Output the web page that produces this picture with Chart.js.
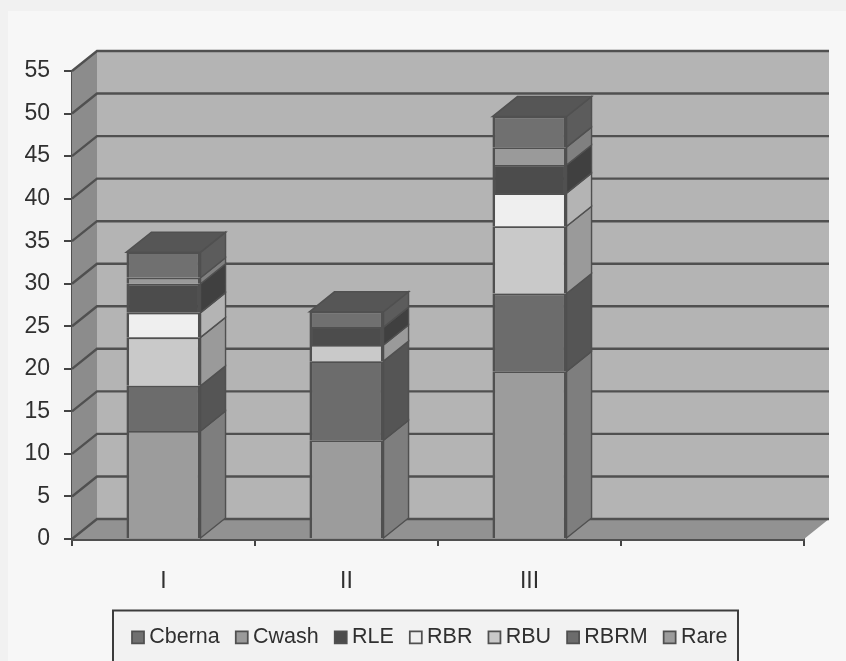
<!DOCTYPE html>
<html><head><meta charset="utf-8">
<style>html,body{margin:0;padding:0;background:#f1f1f1;overflow:hidden}canvas{display:block;filter:blur(0.7px)}</style>
<script src="https://cdn.jsdelivr.net/npm/chart.js@4"></script>
</head><body><canvas id="c" width="846" height="661"></canvas>
<script>
const categories = ['I','II','III',''];
const rare  = [12.7, 11.6, 19.7, null];
const rbrm  = [5.3, 9.3, 9.15, null];
const rbu   = [5.7, 1.9, 7.9, null];
const rbr   = [2.9, null, 3.9, null];
const rle   = [3.4, 2.1, 3.3, null];
const cwash = [0.7, null, 2.1, null];
const cberna= [3.0, 1.8, 3.6, null];
const names = ['Rare','RBRM','RBU','RBR','RLE','Cwash','Cberna'];
const values = [rare,rbrm,rbu,rbr,rle,cwash,cberna];
const fronts = ['#9c9c9c','#6c6c6c','#c9c9c9','#efefef','#4c4c4c','#9a9a9a','#707070'];
const sides  = ['#7e7e7e','#555555','#9a9a9a','#b4b4b4','#404040','#808080','#5c5c5c'];
const topFace = '#565656';
const line = '#505050';
const DX = 25, DY = -20;

const box3d = {
  id:'box3d',
  afterLayout(ch){ ch.scales.y.left = 0; },
  beforeDraw(ch){
    const {ctx,legend:l,width,height}=ch;
    ctx.save();
    ctx.fillStyle='#f1f1f1';ctx.fillRect(0,0,width,height);
    ctx.fillStyle='#f7f7f7';ctx.fillRect(8,11,width-8,height-11);
    const hits=l.legendHitBoxes;
    const x0=hits[0].left-24.5, x1=hits[hits.length-1].left+hits[hits.length-1].width+10.5, y0=l.top+5.5;
    ctx.fillStyle='#f2f2f2';ctx.fillRect(x0,y0,x1-x0,height-y0+4);
    ctx.strokeStyle='#3c3c3c';ctx.lineWidth=2;ctx.strokeRect(x0,y0,x1-x0,height-y0+4);
    ctx.restore();
  },
  beforeDatasetsDraw(ch){
    const {ctx, chartArea:a, scales:{y}} = ch;
    const poly=(pts,fill)=>{ctx.beginPath();pts.forEach((p,i)=>i?ctx.lineTo(p[0],p[1]):ctx.moveTo(p[0],p[1]));ctx.closePath();ctx.fillStyle=fill;ctx.fill();};
    ctx.save();
    poly([[a.left+DX,a.top+DY],[a.right+DX,a.top+DY],[a.right+DX,a.bottom+DY],[a.left+DX,a.bottom+DY]],'#b4b4b4');
    poly([[a.left,a.top],[a.left+DX,a.top+DY],[a.left+DX,a.bottom+DY],[a.left,a.bottom]],'#8c8c8c');
    poly([[a.left,a.bottom],[a.left+DX,a.bottom+DY],[a.right+DX,a.bottom+DY],[a.right,a.bottom]],'#929292');
    ctx.strokeStyle=line;ctx.lineWidth=2.4;
    y.ticks.forEach(t=>{
      const py=y.getPixelForValue(t.value);
      ctx.beginPath();ctx.moveTo(a.left,py);ctx.lineTo(a.left+DX,py+DY);ctx.lineTo(a.right+DX,py+DY);ctx.stroke();
    });
    const n=categories.length;
    for(let c=0;c<n;c++){
      let last=null;
      ch.data.datasets.forEach((ds,i)=>{
        const el=ch.getDatasetMeta(i).data[c];
        if(ds.data[c]==null||!el)return;
        const r=el.x+el.width/2;
        ctx.beginPath();ctx.moveTo(r,el.base);ctx.lineTo(r+DX,el.base+DY);ctx.lineTo(r+DX,el.y+DY);ctx.lineTo(r,el.y);ctx.closePath();
        ctx.fillStyle=sides[i];ctx.fill();ctx.strokeStyle=line;ctx.lineWidth=1.4;ctx.stroke();
        last=el;
      });
      if(last){
        const l=last.x-last.width/2,r=last.x+last.width/2;
        ctx.beginPath();ctx.moveTo(l,last.y);ctx.lineTo(l+DX,last.y+DY);ctx.lineTo(r+DX,last.y+DY);ctx.lineTo(r,last.y);ctx.closePath();
        ctx.fillStyle=topFace;ctx.fill();ctx.strokeStyle=line;ctx.lineWidth=1.6;ctx.stroke();
      }
    }
    ctx.restore();
  }
};

new Chart(document.getElementById('c'),{
  type:'bar',
  data:{labels:categories,datasets:names.map((nm,i)=>({label:nm,data:values[i],backgroundColor:fronts[i],borderColor:line,borderWidth:{left:2.6,right:2.6,top:1.8,bottom:0},borderSkipped:false,categoryPercentage:1,barPercentage:0.405}))},
  plugins:[box3d],
  options:{
    responsive:false,animation:false,
    layout:{padding:{left:61,right:42,top:71,bottom:3}},
    scales:{
      x:{stacked:true,
        grid:{offset:true,drawOnChartArea:false,drawTicks:true,tickLength:7,color:'#444',lineWidth:2},
        border:{display:true,color:line,width:3},
        ticks:{color:'#303030',padding:22,maxRotation:0,font:{family:'"Liberation Sans"',size:23}},
        afterFit(s){s.height=66;}
      },
      y:{stacked:true,min:0,max:55,
        grid:{drawOnChartArea:false,drawTicks:true,tickLength:8,color:'#444',lineWidth:2},
        border:{display:true,color:line,width:3},
        ticks:{stepSize:5,color:'#303030',padding:14,font:{family:'"Liberation Sans"',size:23}},
        afterFit(s){s.width=11;}
      }
    },
    plugins:{
      tooltip:{enabled:false},title:{display:false},
      legend:{display:true,position:'bottom',reverse:true,
        labels:{usePointStyle:true,pointStyle:'rect',boxWidth:1,boxHeight:12,padding:21.5,color:'#303030',font:{family:'"Liberation Sans"',size:21.5}}}
    }
  }
});
</script></body></html>
